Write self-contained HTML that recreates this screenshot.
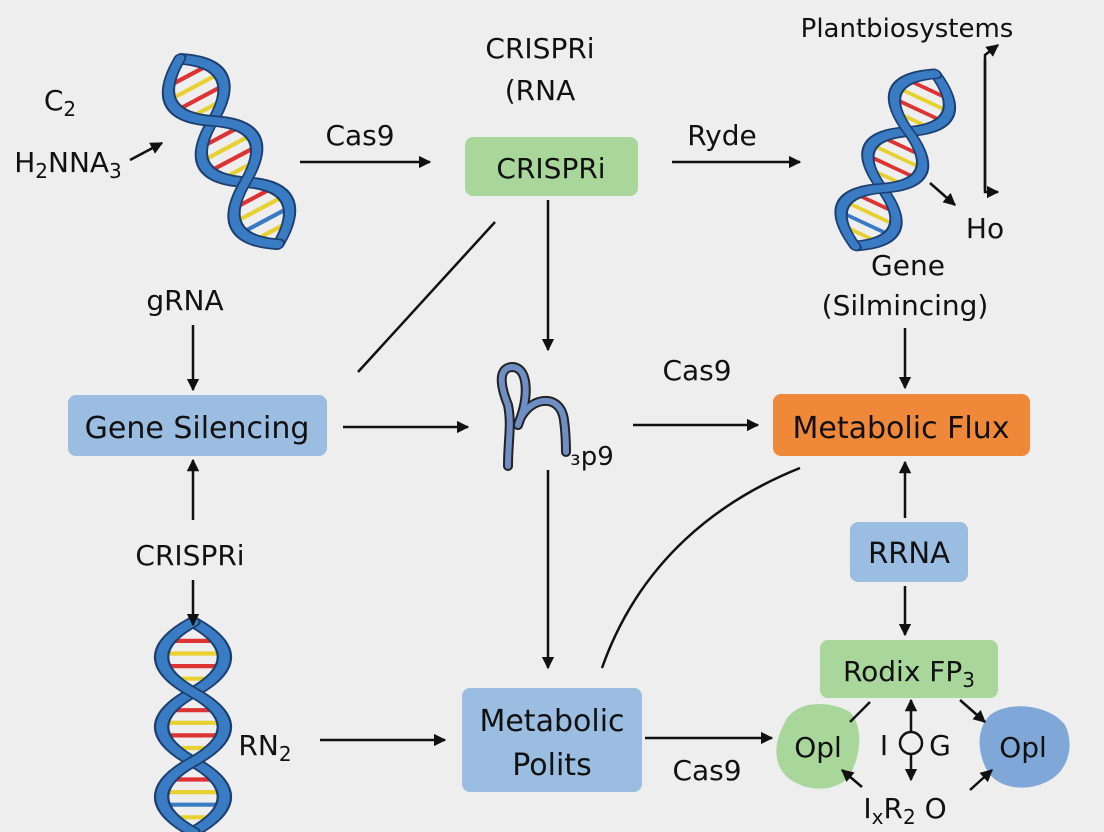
<!DOCTYPE html>
<html><head><meta charset="utf-8"><style>
html,body{margin:0;padding:0;background:#eeeeee;}
svg{display:block;font-family:"DejaVu Sans","Liberation Sans",sans-serif;}
</style></head><body>
<svg width="1104" height="832" viewBox="0 0 1104 832" xmlns="http://www.w3.org/2000/svg">
<defs>
<marker id="ah" viewBox="0 0 10 10" refX="9" refY="5" markerWidth="5" markerHeight="5" orient="auto-start-reverse"><path d="M0,0 L10,5 L0,10 z" fill="#111"/></marker>
<g id="helix">
  <g stroke-width="4">
    <line x1="6" y1="18" x2="34" y2="18" stroke="#d33"/>
    <line x1="4" y1="30" x2="36" y2="30" stroke="#e8d030"/>
    <line x1="4" y1="42" x2="36" y2="42" stroke="#d33"/>
    <line x1="6" y1="54" x2="34" y2="54" stroke="#e8d030"/>
    <line x1="6" y1="84" x2="34" y2="84" stroke="#d33"/>
    <line x1="4" y1="96" x2="36" y2="96" stroke="#e8d030"/>
    <line x1="4" y1="108" x2="36" y2="108" stroke="#d33"/>
    <line x1="6" y1="120" x2="34" y2="120" stroke="#e8d030"/>
    <line x1="6" y1="150" x2="34" y2="150" stroke="#d33"/>
    <line x1="4" y1="162" x2="36" y2="162" stroke="#e8d030"/>
    <line x1="4" y1="174" x2="36" y2="174" stroke="#3a7cc4"/>
    <line x1="6" y1="186" x2="34" y2="186" stroke="#e8d030"/>
  </g>
  <g fill="none" stroke-linecap="round">
    <path d="M20,0 C47,22 47,45 20,67 S-7,111 20,133 S47,178 20,200" stroke="#1d3f70" stroke-width="10"/>
    <path d="M20,0 C47,22 47,45 20,67 S-7,111 20,133 S47,178 20,200" stroke="#3a7cc4" stroke-width="7"/>
    <path d="M20,0 C-7,22 -7,45 20,67 S47,111 20,133 S-7,178 20,200" stroke="#1d3f70" stroke-width="10"/>
    <path d="M20,0 C-7,22 -7,45 20,67 S47,111 20,133 S-7,178 20,200" stroke="#3a7cc4" stroke-width="7"/>
  </g>
</g>
</defs>

<g transform="translate(155,72) rotate(-28) scale(1.4,1.05)"><use href="#helix"/></g>
<g transform="translate(910,62) rotate(25) scale(1.4,0.95)"><use href="#helix"/></g>
<g transform="translate(162,622) scale(1.55,1.05)"><use href="#helix"/></g>

<g fill="#111" font-size="28" text-anchor="middle">
<text x="540" y="58">CRISPRi</text>
<text x="540" y="100">(RNA</text>
<text x="907" y="37" font-size="26">Plantbiosystems</text>
<text x="60" y="110">C<tspan font-size="20" dy="6">2</tspan></text>
<text x="68" y="172">H<tspan font-size="20" dy="6">2</tspan><tspan dy="-6">NNA</tspan><tspan font-size="20" dy="6">3</tspan></text>
<text x="360" y="145">Cas9</text>
<text x="722" y="145">Ryde</text>
<text x="185" y="310">gRNA</text>
<text x="985" y="238">Ho</text>
<text x="908" y="275">Gene</text>
<text x="905" y="315">(Silmincing)</text>
<text x="697" y="380">Cas9</text>
<text x="592" y="465" font-size="26">₃p9</text>
<text x="190" y="565">CRISPRi</text>
<text x="265" y="755">RN<tspan font-size="20" dy="6">2</tspan></text>
<text x="707" y="780">Cas9</text>
<text x="884" y="755">I</text>
<text x="940" y="755">G</text>
<text x="905" y="818">I<tspan font-size="20" dy="6">x</tspan><tspan dy="-6">R</tspan><tspan font-size="20" dy="6">2</tspan><tspan dy="-6"> O</tspan></text>
</g>

<rect x="465" y="137" width="173" height="59" rx="8" fill="#a9d79b"/>
<text x="551" y="178" font-size="28" text-anchor="middle" fill="#111">CRISPRi</text>
<rect x="68" y="395" width="259" height="61" rx="8" fill="#9cbde2"/>
<text x="197" y="438" font-size="30" text-anchor="middle" fill="#111">Gene Silencing</text>
<rect x="773" y="394" width="257" height="62" rx="8" fill="#f0883a"/>
<text x="901" y="438" font-size="30" text-anchor="middle" fill="#111">Metabolic Flux</text>
<rect x="850" y="522" width="118" height="60" rx="8" fill="#9cbde2"/>
<text x="909" y="563" font-size="29" text-anchor="middle" fill="#111">RRNA</text>
<rect x="820" y="640" width="178" height="58" rx="8" fill="#a9d79b"/>
<text x="909" y="681" font-size="28" text-anchor="middle" fill="#111">Rodix FP<tspan font-size="20" dy="6">3</tspan></text>
<rect x="462" y="688" width="180" height="104" rx="8" fill="#9cbde2"/>
<text x="552" y="731" font-size="30" text-anchor="middle" fill="#111">Metabolic</text>
<text x="552" y="775" font-size="30" text-anchor="middle" fill="#111">Polits</text>

<path d="M785,722 C795,700 830,700 850,712 C865,728 860,760 848,778 C830,795 800,790 785,775 C772,760 775,740 785,722z" fill="#a9d79b"/>
<text x="818" y="757" font-size="28" text-anchor="middle" fill="#111">Opl</text>
<path d="M990,715 C1010,700 1050,705 1065,725 C1075,745 1068,770 1050,780 C1030,792 1000,790 988,772 C978,755 975,730 990,715z" fill="#7fa8d8"/>
<text x="1023" y="757" font-size="28" text-anchor="middle" fill="#111">Opl</text>
<circle cx="911" cy="743" r="11" fill="none" stroke="#111" stroke-width="2.5"/>

<g fill="none" stroke-linecap="round">
<path d="M508,466 C508,440 512,425 508,405 C500,385 498,368 512,367 C528,367 530,395 518,425" stroke="#222" stroke-width="10"/>
<path d="M518,425 C525,398 560,390 564,420 C566,435 566,445 566,452" stroke="#222" stroke-width="10"/>
<path d="M508,466 C508,440 512,425 508,405 C500,385 498,368 512,367 C528,367 530,395 518,425" stroke="#6f8fc4" stroke-width="6"/>
<path d="M518,425 C525,398 560,390 564,420 C566,435 566,445 566,452" stroke="#6f8fc4" stroke-width="6"/>
</g>

<g stroke="#111" stroke-width="2.5" fill="none" marker-end="url(#ah)">
<line x1="300" y1="162" x2="430" y2="162"/>
<line x1="672" y1="162" x2="800" y2="162"/>
<line x1="193" y1="325" x2="193" y2="390"/>
<line x1="343" y1="427" x2="468" y2="427"/>
<line x1="548" y1="200" x2="548" y2="350"/>
<line x1="633" y1="425" x2="758" y2="425"/>
<line x1="905" y1="328" x2="905" y2="388"/>
<line x1="905" y1="518" x2="905" y2="462"/>
<line x1="905" y1="586" x2="905" y2="635"/>
<line x1="193" y1="520" x2="193" y2="460"/>
<line x1="193" y1="580" x2="193" y2="625"/>
<line x1="320" y1="740" x2="445" y2="740"/>
<line x1="548" y1="470" x2="548" y2="668"/>
<line x1="645" y1="738" x2="772" y2="738"/>
<line x1="930" y1="183" x2="955" y2="205"/>
<line x1="130" y1="160" x2="162" y2="143"/>
<path d="M985,190 L985,55 L998,45"/>
<path d="M985,60 L985,192 L998,192"/>
<line x1="911" y1="732" x2="911" y2="700"/>
<line x1="911" y1="754" x2="911" y2="780"/>
<line x1="960" y1="700" x2="985" y2="722"/>
<line x1="862" y1="787" x2="842" y2="770"/>
<line x1="970" y1="790" x2="992" y2="770"/>
</g>
<g stroke="#111" stroke-width="2.5" fill="none">
<line x1="495" y1="222" x2="358" y2="372"/>
<path d="M602,668 C640,560 720,500 800,468"/>
<line x1="870" y1="702" x2="850" y2="722"/>
</g>
</svg>
</body></html>
